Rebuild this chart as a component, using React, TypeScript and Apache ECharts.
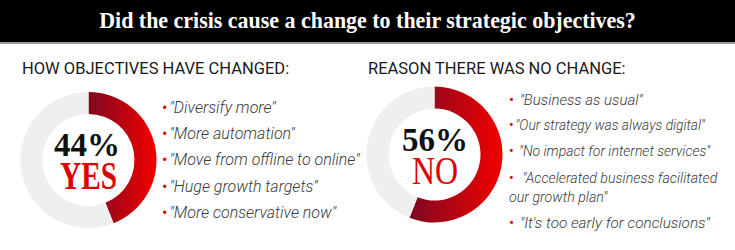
import React, { useEffect, useRef } from 'react';
import * as echarts from 'echarts';

const chartTitle = 'Did the crisis cause a change to their strategic objectives?';
const leftHeading = 'HOW OBJECTIVES HAVE CHANGED:';
const rightHeading = 'REASON THERE WAS NO CHANGE:';
const yesShare = 44;
const noShare = 56;
const yesLabel = 'YES';
const noLabel = 'NO';
const changedReasons = [
  '"Diversify more"',
  '"More automation"',
  '"Move from offline to online"',
  '"Huge growth targets"',
  '"More conservative now"',
];
const noChangeReasons = [
  ' "Business as usual"',
  '"Our strategy was always digital"',
  ' "No impact for internet services"',
  '  "Accelerated business facilitated\nour growth plan"',
  ' "It\'s too early for conclusions"',
];

// styling only: horizontal squeeze of each right-hand line, as set in the original
const noChangeSqueeze = [1.0, 0.92, 0.935, 0.95, 1.02];

const RED_DARK = '#7e0820';
const RED_BRIGHT = '#f20000';
const TRACK = '#efefef';

function redGradient() {
  return new echarts.graphic.LinearGradient(0, 0, 1, 0, [
    { offset: 0, color: RED_DARK },
    { offset: 1, color: RED_BRIGHT },
  ]);
}

function bulletText(item: string) {
  const lines = item.split('\n');
  return '{d|•}' + lines.map((l) => `{t|${l}}`).join('\n');
}

function bulletList(
  items: string[],
  x: number,
  firstCenter: number,
  lineH: number,
  step: number,
  fontSize: number,
  squeeze?: number[]
) {
  const out: any[] = [];
  let y = firstCenter - lineH / 2;
  items.forEach((item, i) => {
    const n = item.split('\n').length;
    out.push({
      type: 'text',
      x,
      y,
      scaleX: squeeze ? squeeze[i] : 1,
      silent: true,
      style: {
        text: bulletText(item),
        align: 'left',
        verticalAlign: 'top',
        textAlign: 'left',
        textVerticalAlign: 'top',
        rich: {
          d: { fill: '#e00000', fontSize, fontFamily: 'Roboto', lineHeight: lineH, padding: [0, 2, 0, 0] },
          t: {
            fill: '#3a3a3a',
            fontSize,
            fontFamily: 'Roboto',
            fontStyle: 'italic',
            fontWeight: 300,
            lineHeight: lineH,
          },
        },
      },
    });
    y += (n - 1) * lineH + step;
  });
  return out;
}

function centerText(text: string, x: number, y: number, size: number, weight: string, fill: string, scaleX: number) {
  return {
    type: 'text',
    x,
    y,
    scaleX,
    silent: true,
    style: {
      text,
      fontSize: size,
      fontFamily: '"Liberation Serif", serif',
      fontWeight: weight,
      fill,
      align: 'center',
      verticalAlign: 'middle',
      textAlign: 'center',
      textVerticalAlign: 'middle',
    },
  };
}

function heading(text: string, x: number, y: number) {
  return {
    type: 'text',
    x,
    y,
    silent: true,
    style: {
      text,
      fontSize: 16.5,
      fontFamily: 'Roboto',
      fill: '#1a1a1a',
      align: 'left',
      verticalAlign: 'middle',
      textAlign: 'left',
      textVerticalAlign: 'middle',
    },
  };
}

export default function App() {
  const ref = useRef<HTMLDivElement>(null);
  useEffect(() => {
    if (!ref.current) return;
    const chart = echarts.init(ref.current, null, { renderer: 'svg' });
    const pieBase = {
      type: 'pie',
      radius: [46, 68],
      startAngle: 90,
      clockwise: true,
      silent: true,
      label: { show: false },
      labelLine: { show: false },
      emphasis: { disabled: true },
      itemStyle: { borderWidth: 0 },
    };
    chart.setOption({
      animation: false,
      series: [
        {
          ...pieBase,
          center: [88.5, 160],
          data: [
            { name: yesLabel, value: yesShare, itemStyle: { color: redGradient() } },
            { name: 'rest', value: noShare, itemStyle: { color: TRACK } },
          ],
        },
        {
          ...pieBase,
          center: [434.5, 154.5],
          data: [
            { name: noLabel, value: noShare, itemStyle: { color: redGradient() } },
            { name: 'rest', value: yesShare, itemStyle: { color: TRACK } },
          ],
        },
      ],
      graphic: [
        { type: 'rect', shape: { x: 0, y: 0, width: 735, height: 42 }, style: { fill: '#000' }, silent: true },
        { type: 'rect', shape: { x: 0, y: 42, width: 735, height: 2 }, style: { fill: '#9a9a9a' }, silent: true },
        centerText(chartTitle, 367.5, 20, 23, 'bold', '#ffffff', 0.955),
        heading(leftHeading, 22, 68),
        heading(rightHeading, 368, 68),
        centerText(yesShare + '%', 87, 145, 33, 'bold', '#111111', 1),
        centerText(yesLabel, 88.5, 175.5, 39, 'bold', '#e00000', 0.75),
        centerText(noShare + '%', 435, 139.5, 33, 'bold', '#111111', 1),
        centerText(noLabel, 435, 170.5, 39, 'normal', '#e00000', 0.82),
        ...bulletList(changedReasons, 162, 107.5, 19.5, 26.2, 16),
        ...bulletList(noChangeReasons, 509, 100, 19.5, 25.8, 15, noChangeSqueeze),
      ],
    });
    return () => chart.dispose();
  }, []);
  return (
    <div
      ref={ref}
      style={{ position: 'fixed', left: 0, top: 0, width: 735, height: 250, background: '#fff' }}
    />
  );
}
